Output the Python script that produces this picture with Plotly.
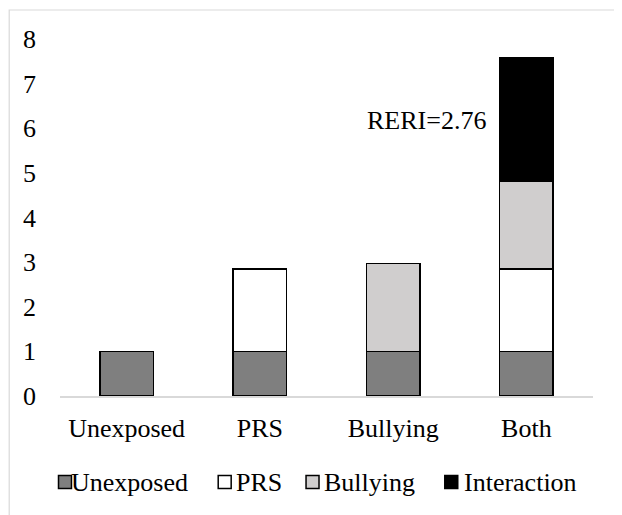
import plotly.graph_objects as go

categories = ["Unexposed", "PRS", "Bullying", "Both"]
unexposed = [1, 1, 1, 1]
prs = [None, 1.85, None, 1.85]
bullying = [None, None, 1.97, 1.97]
interaction = [None, None, None, 2.76]
y_ticks = [0, 1, 2, 3, 4, 5, 6, 7, 8]
annotation_text = "RERI=2.76"

FONT = "Liberation Serif, Times New Roman, serif"

series = [
    ("Unexposed", unexposed, "#7f7f7f"),
    ("PRS", prs, "#ffffff"),
    ("Bullying", bullying, "#d0cece"),
    ("Interaction", interaction, "#000000"),
]

fig = go.Figure()
for name, vals, color in series:
    fig.add_trace(go.Bar(
        x=categories, y=vals, name=name,
        marker=dict(color=color, line=dict(color="#000000", width=1.5)),
        width=0.4, showlegend=False,
    ))

# page body adds an 8px offset; figure coordinates = screen - OFF
OFF = 8
W, H = 622, 515
L = 59.5 - OFF
R = W - (593.5 - OFF)
T = 39 - OFF
B = H - (396 - OFF)
pw = W - L - R
ph = H - T - B

def px_x(px):  # screen px -> paper
    return (px - OFF - L) / pw

def px_y(py):
    return (H - B - (py - OFF)) / ph

legend_swatch_left = [58, 218, 306, 445]
legend_text_left = [70, 235, 323, 463]
legend_cy = 482
sw = 13

shapes = [dict(
    type="rect", xref="paper", yref="paper",
    x0=px_x(OFF + 0.6), x1=px_x(800), y0=px_y(10), y1=px_y(800),
    line=dict(color="#d9d9d9", width=1.2), fillcolor="rgba(0,0,0,0)",
    layer="below",
)]
annotations = [dict(
    x=2.715, y=6.18, xref="x", yref="y", text=annotation_text,
    showarrow=False, xanchor="right", yanchor="middle",
    font=dict(family=FONT, size=26, color="#000000"),
)]
for (name, _, color), sx, tx in zip(series, legend_swatch_left, legend_text_left):
    shapes.append(dict(
        type="rect", xref="paper", yref="paper",
        x0=px_x(sx), x1=px_x(sx + sw),
        y0=px_y(legend_cy - sw / 2), y1=px_y(legend_cy + sw / 2),
        fillcolor=color, line=dict(color="#000000", width=1.5), layer="above",
    ))
    annotations.append(dict(
        x=px_x(tx), y=px_y(legend_cy), xref="paper", yref="paper",
        text=name, showarrow=False, xanchor="left", yanchor="middle",
        font=dict(family=FONT, size=26, color="#000000"),
        borderpad=0,
    ))

fig.update_layout(
    width=W, height=H,
    margin=dict(l=L, r=R, t=T, b=B, pad=0, autoexpand=False),
    barmode="stack",
    paper_bgcolor="white", plot_bgcolor="white",
    font=dict(family=FONT, size=26, color="#000000"),
    showlegend=False,
    xaxis=dict(
        range=[-0.5, 3.5], showgrid=False, zeroline=False,
        showline=True, linecolor="#d9d9d9", linewidth=2,
        ticks="", tickfont=dict(family=FONT, size=26),
        layer="below traces", ticklabelstandoff=8, automargin=False,
    ),
    yaxis=dict(
        range=[0, 8], tickvals=y_ticks, showgrid=False, zeroline=False,
        showline=False, ticks="", tickfont=dict(family=FONT, size=26),
        ticklabelstandoff=23, automargin=False,
    ),
    shapes=shapes,
    annotations=annotations,
)

fig.write_html("out.html")
